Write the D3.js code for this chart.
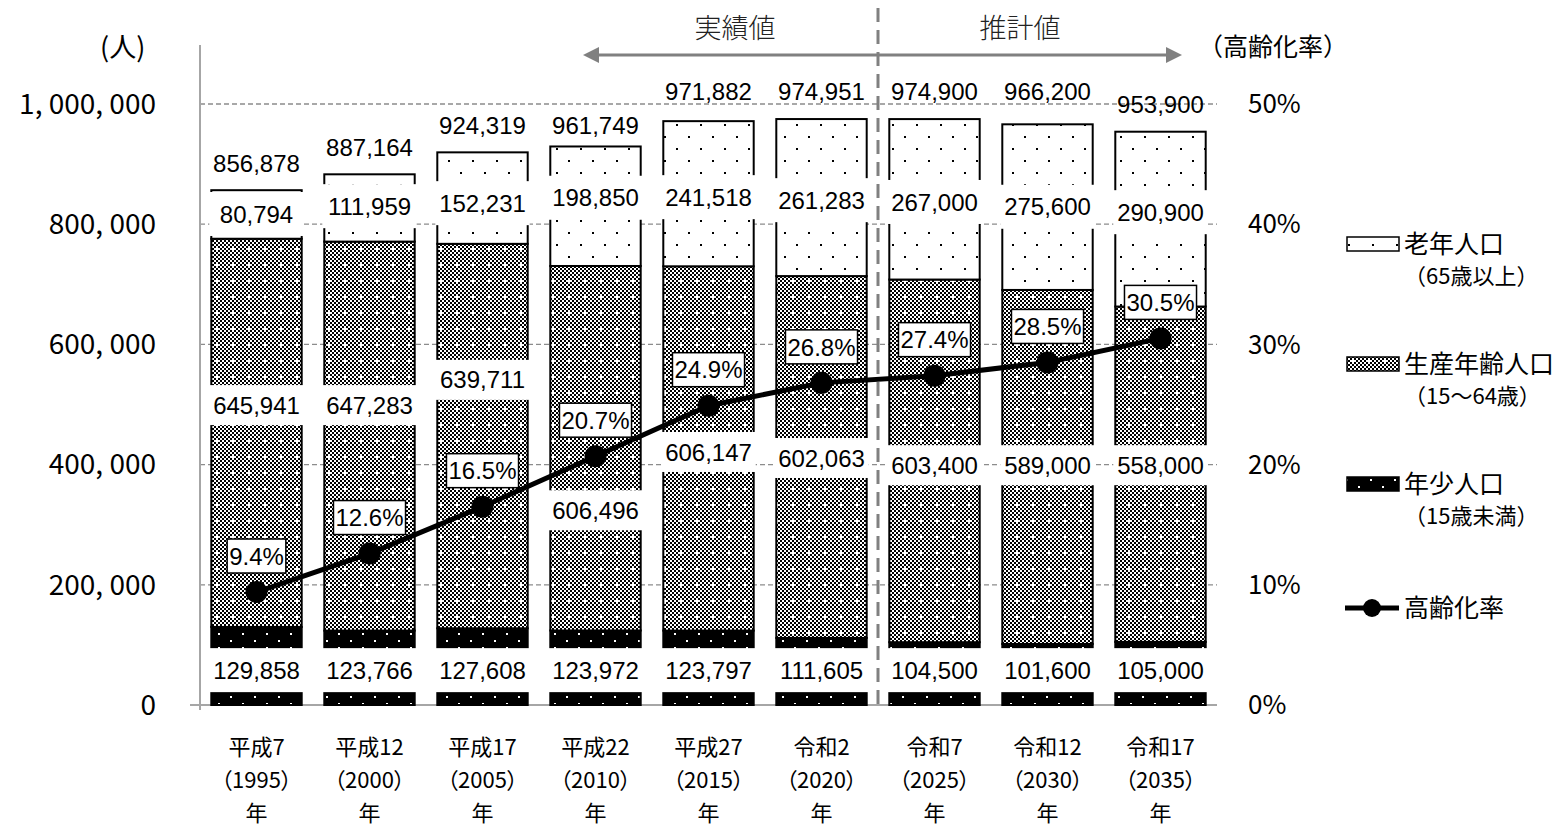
<!DOCTYPE html>
<html>
<head>
<meta charset="utf-8">
<script src="https://cdn.jsdelivr.net/npm/d3@7"></script>
<style>
  body { margin: 0; background: #fff; }
  svg { display: block; }
  .jp { font-family: "Noto Sans CJK JP", sans-serif; fill: #000; }
  .palt { font-feature-settings: "palt"; }
  .num { font-family: "Liberation Sans", Arial, sans-serif; fill: #000; }
  .narrow { font-family: "Liberation Sans Narrow", "Arial Narrow", "Liberation Sans", sans-serif; fill: #000; }
</style>
</head>
<body>
<script>
// categories and values
var eras = ["平成7", "平成12", "平成17", "平成22", "平成27", "令和2", "令和7", "令和12", "令和17"];
var years = ["1995", "2000", "2005", "2010", "2015", "2020", "2025", "2030", "2035"];
var youth = [129858, 123766, 127608, 123972, 123797, 111605, 104500, 101600, 105000];
var working = [645941, 647283, 639711, 606496, 606147, 602063, 603400, 589000, 558000];
var elderly = [80794, 111959, 152231, 198850, 241518, 261283, 267000, 275600, 290900];
var totals = [856878, 887164, 924319, 961749, 971882, 974951, 974900, 966200, 953900];
var agingRate = [9.4, 12.6, 16.5, 20.7, 24.9, 26.8, 27.4, 28.5, 30.5];
var leftTicks = [0, 200000, 400000, 600000, 800000, 1000000];
var rightTicks = [0, 10, 20, 30, 40, 50];

// where the data labels sit (in people units on the left axis)
var youthLabelAt = [58000, 58000, 58000, 58000, 58000, 58000, 58000, 58000, 58000];
var workingLabelAt = [499000, 499000, 541000, 324000, 421000, 411000, 399000, 399000, 399000];
var elderlyLabelAt = [817000, 830000, 835000, 844000, 845000, 840000, 837000, 829000, 820000];
var totalLabelAt = [902000, 928000, 965000, 965000, 1021000, 1021000, 1021000, 1021000, 1000000];

var W = 1566, H = 831;
var svg = d3.select("body").append("svg").attr("width", W).attr("height", H);

var x = d3.scaleBand().domain(eras).range([200, 1217]).paddingInner(0.2).paddingOuter(0.1);
var y = d3.scaleLinear().domain([0, 1000000]).range([705, 104]);
var yr = d3.scaleLinear().domain([0, 50]).range([705, 104]);
var fmt = d3.format(",");
var cx = function(i) { return x(eras[i]) + x.bandwidth() / 2; };

// fill patterns
var defs = svg.append("defs");
var pOld = defs.append("pattern").attr("id", "pOld").attr("patternUnits", "userSpaceOnUse")
  .attr("width", 24).attr("height", 24);
pOld.append("rect").attr("width", 24).attr("height", 24).attr("fill", "#fff");
pOld.append("rect").attr("x", 4).attr("y", 4).attr("width", 2).attr("height", 2).attr("fill", "#000");
pOld.append("rect").attr("x", 16).attr("y", 16).attr("width", 2).attr("height", 2).attr("fill", "#000");

var pWork = defs.append("pattern").attr("id", "pWork").attr("patternUnits", "userSpaceOnUse")
  .attr("width", 16).attr("height", 16);
pWork.append("rect").attr("width", 16).attr("height", 16).attr("fill", "#fff");
for (var i = 0; i < 8; i++) {
  for (var j = 0; j < 8; j++) {
    if ((i + j) % 2 === 0) {
      pWork.append("rect").attr("x", i * 2).attr("y", j * 2).attr("width", 2).attr("height", 2).attr("fill", "#000");
    }
  }
}
pWork.append("rect").attr("x", 6).attr("y", 8).attr("width", 4).attr("height", 2).attr("fill", "#fff");
pWork.append("rect").attr("x", 8).attr("y", 6).attr("width", 2).attr("height", 4).attr("fill", "#fff");

var pYoung = defs.append("pattern").attr("id", "pYoung").attr("patternUnits", "userSpaceOnUse")
  .attr("width", 24).attr("height", 14);
pYoung.append("rect").attr("width", 24).attr("height", 14).attr("fill", "#000");
pYoung.append("rect").attr("x", 2).attr("y", 3).attr("width", 2).attr("height", 2).attr("fill", "#fff");
pYoung.append("rect").attr("x", 14).attr("y", 10).attr("width", 2).attr("height", 2).attr("fill", "#fff");

// gridlines
svg.append("g").selectAll("line").data(leftTicks.filter(function(d) { return d > 0; }))
  .enter().append("line")
  .attr("x1", 200).attr("x2", 1217)
  .attr("y1", function(d) { return y(d); }).attr("y2", function(d) { return y(d); })
  .attr("stroke", "#8c8c8c").attr("stroke-width", 1.3).attr("stroke-dasharray", "5,3");

// left axis line + baseline
svg.append("line").attr("x1", 200).attr("x2", 200).attr("y1", 45).attr("y2", 710)
  .attr("stroke", "#a6a6a6").attr("stroke-width", 2);
svg.append("line").attr("x1", 190).attr("x2", 1217).attr("y1", 705).attr("y2", 705)
  .attr("stroke", "#a6a6a6").attr("stroke-width", 2);

// stacked bars
var rows = eras.map(function(e, i) {
  return { era: e, i: i, y0: youth[i], w: working[i], o: elderly[i] };
});
var bars = svg.append("g").selectAll("g").data(rows).enter().append("g");
bars.append("rect")
  .attr("x", function(d) { return x(d.era); }).attr("width", x.bandwidth())
  .attr("y", function(d) { return y(d.y0); }).attr("height", function(d) { return y(0) - y(d.y0); })
  .attr("fill", "url(#pYoung)").attr("stroke", "#000").attr("stroke-width", 2);
bars.append("rect")
  .attr("x", function(d) { return x(d.era); }).attr("width", x.bandwidth())
  .attr("y", function(d) { return y(d.y0 + d.w); }).attr("height", function(d) { return y(d.y0) - y(d.y0 + d.w); })
  .attr("fill", "url(#pWork)").attr("stroke", "#000").attr("stroke-width", 2);
bars.append("rect")
  .attr("x", function(d) { return x(d.era); }).attr("width", x.bandwidth())
  .attr("y", function(d) { return y(d.y0 + d.w + d.o); }).attr("height", function(d) { return y(d.y0 + d.w) - y(d.y0 + d.w + d.o); })
  .attr("fill", "url(#pOld)").attr("stroke", "#000").attr("stroke-width", 2);

// segment labels with white boxes
function boxedLabels(values, pos, boxH) {
  var g = svg.append("g").selectAll("g").data(values).enter().append("g")
    .attr("transform", function(d, i) { return "translate(" + cx(i) + "," + y(pos[i]) + ")"; });
  g.append("rect").attr("x", -x.bandwidth() / 2 - 2).attr("width", x.bandwidth() + 4)
    .attr("y", -boxH / 2).attr("height", boxH).attr("fill", "#fff");
  g.append("text").attr("class", "num").attr("text-anchor", "middle").attr("dy", "0.36em")
    .attr("font-size", 24).text(function(d) { return fmt(d); });
}
boxedLabels(youth, youthLabelAt, 44);
boxedLabels(working, workingLabelAt, 40);
boxedLabels(elderly, elderlyLabelAt, 44);

// totals
svg.append("g").selectAll("text").data(totals).enter().append("text")
  .attr("class", "num").attr("text-anchor", "middle").attr("dy", "0.36em").attr("font-size", 24)
  .attr("x", function(d, i) { return cx(i); })
  .attr("y", function(d, i) { return y(totalLabelAt[i]); })
  .text(function(d) { return fmt(d); });

// aging rate line
var line = d3.line()
  .x(function(d, i) { return cx(i); })
  .y(function(d) { return yr(d); });
svg.append("path").datum(agingRate).attr("d", line)
  .attr("fill", "none").attr("stroke", "#000").attr("stroke-width", 5);
svg.append("g").selectAll("circle").data(agingRate).enter().append("circle")
  .attr("cx", function(d, i) { return cx(i); })
  .attr("cy", function(d) { return yr(d); })
  .attr("r", 11).attr("fill", "#000");

var rl = svg.append("g").selectAll("g").data(agingRate).enter().append("g")
  .attr("transform", function(d, i) { return "translate(" + cx(i) + "," + (yr(d) - 36) + ")"; });
rl.append("text").attr("class", "narrow").attr("text-anchor", "middle").attr("dy", "0.36em")
  .attr("font-size", 24).text(function(d) { return d.toFixed(1) + "%"; });
rl.each(function() {
  var g = d3.select(this), bb = g.select("text").node().getBBox();
  g.insert("rect", "text").attr("x", bb.x - 2).attr("y", -17).attr("width", bb.width + 4).attr("height", 34)
    .attr("fill", "#fff").attr("stroke", "#000").attr("stroke-width", 1.5);
});

// axis tick labels
svg.append("g").selectAll("text").data(leftTicks).enter().append("text")
  .attr("class", "jp").attr("text-anchor", "end").attr("font-size", 28).attr("dy", "0.35em")
  .attr("x", 156).attr("y", function(d) { return y(d); })
  .text(function(d) { return fmt(d).replace(/,/g, ", "); });
svg.append("g").selectAll("text").data(rightTicks).enter().append("text")
  .attr("class", "jp").attr("text-anchor", "start").attr("font-size", 26).attr("dy", "0.35em")
  .attr("x", 1248).attr("y", function(d) { return yr(d); })
  .text(function(d) { return d + "%"; });

// category labels, three lines each
var catLines = [
  function(d) { return d; },
  function(d, i) { return "（" + years[i] + "）"; },
  function() { return "年"; }
];
catLines.forEach(function(f, k) {
  svg.append("g").selectAll("text").data(eras).enter().append("text")
    .attr("class", "jp palt").attr("text-anchor", "middle").attr("font-size", 22)
    .attr("x", function(d) { return x(d) + x.bandwidth() / 2; })
    .attr("y", 755 + k * 33)
    .text(f);
});

// axis titles
svg.append("text").attr("class", "jp").attr("font-size", 27).attr("x", 100).attr("y", 57).text("(人)");
svg.append("text").attr("class", "jp").attr("font-size", 25).attr("x", 1198).attr("y", 56).text("（高齢化率）");

// actual / estimate annotation
var sepX = (x(eras[5]) + x.bandwidth() + x(eras[6])) / 2;
svg.append("line").attr("x1", sepX).attr("x2", sepX).attr("y1", 8).attr("y2", 705)
  .attr("stroke", "#808080").attr("stroke-width", 3).attr("stroke-dasharray", "14,8");
var ax0 = 583, ax1 = 1182, ay = 55;
svg.append("line").attr("x1", ax0 + 12).attr("x2", ax1 - 12).attr("y1", ay).attr("y2", ay)
  .attr("stroke", "#808080").attr("stroke-width", 3);
svg.append("path").attr("d", "M" + ax0 + "," + ay + "l16,-8l0,16z").attr("fill", "#808080");
svg.append("path").attr("d", "M" + ax1 + "," + ay + "l-16,-8l0,16z").attr("fill", "#808080");
svg.append("text").attr("class", "jp").attr("font-size", 27).attr("text-anchor", "middle")
  .attr("x", 735).attr("y", 38).style("fill", "#222").style("font-weight", 300).text("実績値");
svg.append("text").attr("class", "jp").attr("font-size", 27).attr("text-anchor", "middle")
  .attr("x", 1020).attr("y", 38).style("fill", "#222").style("font-weight", 300).text("推計値");

// legend
var legend = [
  { fill: "url(#pOld)", l1: "老年人口", l2: "（65歳以上）", y: 244 },
  { fill: "url(#pWork)", l1: "生産年齢人口", l2: "（15～64歳）", y: 364 },
  { fill: "url(#pYoung)", l1: "年少人口", l2: "（15歳未満）", y: 484 }
];
var lg = svg.append("g").selectAll("g").data(legend).enter().append("g");
lg.append("rect").attr("x", 1347).attr("y", function(d) { return d.y - 7; })
  .attr("width", 52).attr("height", 14).attr("fill", function(d) { return d.fill; })
  .attr("stroke", "#000").attr("stroke-width", 1.5);
lg.append("text").attr("class", "jp").attr("font-size", 25).attr("x", 1404)
  .attr("y", function(d) { return d.y + 9; }).text(function(d) { return d.l1; });
lg.append("text").attr("class", "jp").attr("font-size", 22).attr("x", 1404)
  .attr("y", function(d) { return d.y + 40; }).text(function(d) { return d.l2; });
svg.append("line").attr("x1", 1345).attr("x2", 1399).attr("y1", 608).attr("y2", 608)
  .attr("stroke", "#000").attr("stroke-width", 5);
svg.append("circle").attr("cx", 1372).attr("cy", 608).attr("r", 9).attr("fill", "#000");
svg.append("text").attr("class", "jp").attr("font-size", 25).attr("x", 1404).attr("y", 617).text("高齢化率");
</script>
</body>
</html>
